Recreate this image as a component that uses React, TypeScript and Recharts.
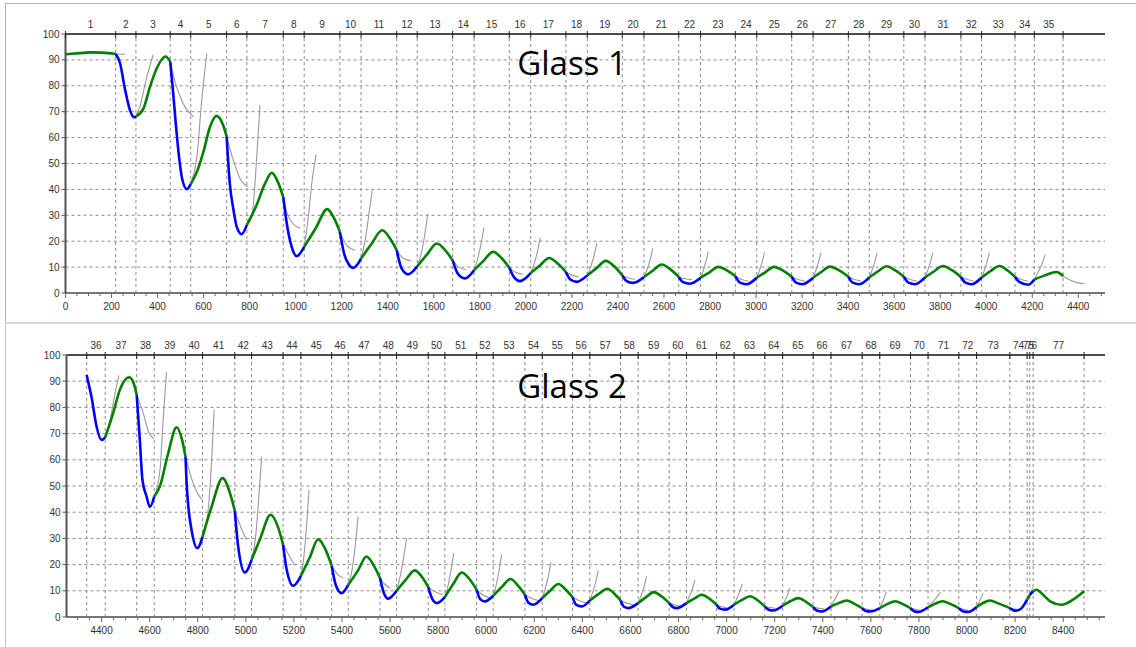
import { LineChart, Line, XAxis, YAxis, ReferenceLine } from 'recharts';

type Pt = [number, number];

// ---------- Glass 1 ----------
const glass1Steps = [
  1, 2, 3, 4, 5, 6, 7, 8, 9, 10, 11, 12, 13, 14, 15, 16, 17, 18, 19, 20,
  21, 22, 23, 24, 25, 26, 27, 28, 29, 30, 31, 32, 33, 34, 35,
];
// step start/end times (one more entry than steps)
const glass1Edges = [
  0, 218, 306, 455, 544, 700, 788, 946, 1037, 1192, 1284, 1439, 1528, 1682, 1775, 1928, 2021, 2174,
  2267, 2419, 2513, 2664, 2759, 2910, 3003, 3155, 3248, 3401, 3492, 3642, 3734, 3890, 3980, 4125,
  4209, 4334,
];
const glass1Trace: Pt[] = [
  [0, 92.2], [61, 92.6], [107, 92.9], [160, 92.8], [218, 92.3],
  [237, 88.7], [259, 78.4], [280, 70.6], [298, 67.8], [306, 68.2],
  [339, 71.3], [367, 79.6], [396, 86.7], [435, 91.3], [455, 89.3],
  [468, 77], [479, 65.5], [494, 52], [507, 44], [527, 40.1], [544, 42],
  [574, 47.5], [599, 54.5], [628, 64.2], [656, 68.4], [685, 64.8], [700, 60.5],
  [714, 42], [729, 32.5], [744, 25.5], [765, 22.7], [788, 26.3],
  [828, 33.5], [868, 42.5], [896, 46.4], [922, 43], [946, 37],
  [961, 27], [982, 18], [1004, 14.2], [1037, 17.8],
  [1087, 25], [1137, 32.4], [1166, 29], [1192, 23.6],
  [1211, 15], [1231, 11], [1250, 9.7], [1284, 13.3],
  [1326, 18.5], [1376, 24.2], [1410, 21], [1439, 16.5],
  [1460, 9.5], [1489, 7.2], [1528, 10.3],
  [1570, 14.8], [1613, 19.1], [1650, 16.5], [1682, 12.6],
  [1704, 7.5], [1735, 5.6], [1775, 8.8],
  [1814, 12.2], [1858, 15.9], [1894, 13.5], [1928, 9.8],
  [1948, 6.2], [1974, 4.6], [2021, 7.7],
  [2061, 10.6], [2101, 13.5], [2137, 11.5], [2174, 8.1],
  [2192, 5.3], [2220, 4.3], [2267, 6.8],
  [2307, 9.6], [2347, 12.4], [2384, 10.3], [2419, 6.8],
  [2438, 4.6], [2466, 3.9], [2513, 6.2],
  [2551, 8.6], [2590, 11], [2627, 9.2], [2664, 6.2],
  [2683, 4.2], [2713, 3.6], [2759, 5.9],
  [2798, 8], [2836, 10.1], [2873, 8.7], [2910, 6.5],
  [2930, 4], [2959, 3.4], [3003, 5.9],
  [3040, 8], [3078, 10.1], [3117, 8.6], [3155, 6.3],
  [3174, 4], [3201, 3.4], [3248, 5.9],
  [3285, 8.2], [3321, 10.2], [3361, 8.7], [3401, 6.3],
  [3420, 4], [3449, 3.4], [3492, 6],
  [3529, 8.3], [3567, 10.3], [3605, 8.7], [3642, 6.3],
  [3662, 4], [3691, 3.4], [3734, 6],
  [3773, 8.3], [3811, 10.4], [3851, 8.8], [3890, 6.2],
  [3910, 4], [3936, 3.4], [3980, 6],
  [4018, 8.4], [4057, 10.4], [4091, 8.8], [4125, 6.3],
  [4145, 4.2], [4183, 3.2], [4209, 5.2],
  [4255, 6.8], [4306, 8.1], [4324, 7.3], [4334, 6.5],
];
// fitted curves, one per step, running past the step end
const glass1Fits: Pt[][] = [
  [[218, 92.3], [259, 92.2]],
  [[306, 68.2], [323, 72], [352, 83], [381, 92]],
  [[455, 89.3], [476, 81.5], [512, 73], [556, 68]],
  [[544, 42], [557, 46], [570, 52], [592, 74.5], [614, 92.5]],
  [[700, 60.5], [729, 51.3], [758, 44.2], [794, 41]],
  [[788, 26.3], [803, 28], [816, 34], [831, 53], [845, 72.5]],
  [[946, 37], [962, 31], [982, 27.5], [1019, 25]],
  [[1037, 17.8], [1055, 29.4], [1070, 42.3], [1089, 53.5]],
  [[1192, 23.6], [1221, 18.5], [1258, 16.5]],
  [[1284, 13.3], [1301, 20], [1316, 29], [1333, 40]],
  [[1439, 16.5], [1465, 13.5], [1500, 12.4]],
  [[1528, 10.3], [1545, 15], [1560, 22], [1574, 30.7]],
  [[1682, 12.6], [1709, 10], [1740, 9]],
  [[1775, 8.8], [1790, 13], [1804, 18.5], [1818, 25.3]],
  [[1928, 9.8], [1955, 8], [1986, 7.2]],
  [[2021, 7.7], [2035, 11], [2049, 15.5], [2062, 21.3]],
  [[2174, 8.1], [2202, 6.8], [2231, 6.2]],
  [[2267, 6.8], [2281, 10], [2295, 14], [2308, 19.1]],
  [[2419, 6.8], [2446, 5.8], [2474, 5.3]],
  [[2513, 6.2], [2526, 9], [2539, 12.5], [2551, 17.2]],
  [[2664, 6.2], [2691, 5.5], [2721, 5.2]],
  [[2759, 5.9], [2770, 8.5], [2781, 11.8], [2792, 15.9]],
  [[2910, 6.5], [2938, 5.2], [2965, 4.6]],
  [[3003, 5.9], [3014, 8.5], [3026, 11.8], [3037, 15.7]],
  [[3155, 6.3], [3183, 5.2], [3210, 4.6]],
  [[3248, 5.9], [3259, 8.5], [3271, 11.8], [3282, 15.6]],
  [[3401, 6.3], [3429, 5.2], [3456, 4.6]],
  [[3492, 6], [3503, 8.5], [3515, 11.8], [3526, 15.6]],
  [[3642, 6.3], [3670, 5.2], [3697, 4.6]],
  [[3734, 6], [3745, 8.5], [3757, 11.8], [3768, 15.6]],
  [[3890, 6.2], [3918, 5.2], [3945, 4.6]],
  [[3980, 6], [3991, 8.5], [4003, 11.8], [4014, 15.6]],
  [[4125, 6.3], [4153, 5.2], [4180, 4.6]],
  [[4209, 5.2], [4225, 8], [4241, 11], [4256, 14.8]],
  [[4334, 6.5], [4364, 5], [4394, 4], [4428, 3.6]],
];
const glass1TimeLabels = [
  0, 200, 400, 600, 800, 1000, 1200, 1400, 1600, 1800, 2000, 2200, 2400, 2600, 2800, 3000, 3200,
  3400, 3600, 3800, 4000, 4200, 4400,
];

// ---------- Glass 2 ----------
const glass2Steps = [
  36, 37, 38, 39, 40, 41, 42, 43, 44, 45, 46, 47, 48, 49, 50, 51, 52, 53, 54, 55, 56,
  57, 58, 59, 60, 61, 62, 63, 64, 65, 66, 67, 68, 69, 70, 71, 72, 73, 74, 75, 76, 77,
];
const glass2Edges = [
  4338, 4415, 4546, 4619, 4749, 4820, 4954, 5024, 5155, 5229, 5357, 5426, 5558, 5627, 5759, 5828,
  5960, 6029, 6161, 6233, 6359, 6431, 6559, 6632, 6761, 6833, 6958, 7031, 7159, 7233, 7360, 7434,
  7564, 7637, 7765, 7838, 7966, 8040, 8178, 8250, 8261, 8275, 8487,
];
const glass2Trace: Pt[] = [
  [4338, 92.4], [4346, 89], [4358, 84], [4379, 72.7], [4400, 67.6], [4415, 68.5],
  [4448, 77.8], [4476, 86.7], [4515, 91.5], [4536, 88.5], [4546, 84.7],
  [4559, 67.6], [4570, 52.3], [4587, 46], [4601, 42], [4619, 46],
  [4643, 50], [4677, 62.5], [4712, 72.4], [4735, 67.5], [4749, 61.2],
  [4753, 52.3], [4760, 43], [4774, 33.3], [4798, 26.3], [4820, 30.7],
  [4858, 42.2], [4903, 53], [4935, 47], [4954, 40.6],
  [4968, 27], [4996, 17], [5024, 21.8],
  [5060, 30], [5103, 39], [5135, 34], [5155, 27.6],
  [5170, 18], [5197, 11.9], [5229, 15.7],
  [5265, 22.5], [5301, 29.7], [5330, 26], [5357, 19.6],
  [5375, 12], [5398, 9.1], [5426, 12.3],
  [5465, 17.5], [5502, 23.1], [5530, 20], [5558, 14.9],
  [5575, 9], [5592, 7], [5627, 10],
  [5665, 14.2], [5703, 17.8], [5735, 15], [5759, 11.4],
  [5775, 7], [5794, 5.3], [5828, 7.6],
  [5862, 12.5], [5898, 17], [5930, 14.5], [5960, 10.4],
  [5975, 6.8], [5994, 5.9], [6029, 8.1],
  [6065, 11.5], [6101, 14.5], [6132, 12], [6161, 8.5],
  [6176, 5.4], [6196, 4.7], [6233, 7.2],
  [6266, 10], [6300, 12.6], [6330, 10.5], [6359, 7.6],
  [6375, 4.6], [6397, 4], [6431, 6.3],
  [6468, 8.8], [6504, 10.8], [6532, 9], [6559, 6.3],
  [6572, 4], [6590, 3.4], [6632, 5.3],
  [6665, 7.6], [6697, 9.5], [6730, 7.8], [6761, 5.3],
  [6775, 3.9], [6792, 3.4], [6833, 5.3],
  [6865, 7], [6896, 8.5], [6928, 7], [6958, 4.7],
  [6972, 3.2], [6993, 2.8], [7031, 4.7],
  [7064, 6.5], [7097, 7.9], [7130, 6.3], [7159, 4],
  [7175, 2.8], [7194, 2.5], [7233, 4.3],
  [7265, 6], [7298, 7.2], [7330, 5.8], [7360, 3.8],
  [7375, 2.5], [7395, 2.1], [7434, 4],
  [7466, 5.3], [7499, 6.3], [7532, 5], [7564, 3.4],
  [7578, 2.3], [7597, 2.1], [7637, 3.4],
  [7670, 5], [7701, 6], [7733, 4.9], [7765, 3.4],
  [7780, 2.2], [7796, 1.9], [7838, 3.7],
  [7868, 5.1], [7898, 6], [7932, 4.9], [7966, 3.4],
  [7985, 2.1], [8005, 1.9], [8040, 3.8],
  [8066, 5.3], [8094, 6.3], [8135, 5], [8178, 3.4],
  [8192, 2.6], [8205, 2.4], [8225, 3.2], [8240, 5], [8250, 6.6],
  [8261, 8.4], [8275, 9.8],
  [8289, 10.4], [8315, 8.6], [8346, 6], [8393, 4.7], [8441, 6.6], [8487, 9.8],
];
const glass2Fits: Pt[][] = [
  [[4415, 68.5], [4435, 75], [4455, 85], [4472, 92.2]],
  [[4546, 84.7], [4573, 78], [4594, 71], [4618, 68]],
  [[4619, 46], [4643, 56.2], [4656, 75.2], [4670, 93.6]],
  [[4749, 61.2], [4781, 51], [4800, 47], [4820, 44.7]],
  [[4820, 30.7], [4837, 36], [4853, 52.3], [4868, 79]],
  [[4954, 40.6], [4968, 37], [4985, 33], [5003, 29.5]],
  [[5024, 21.8], [5040, 30], [5055, 47], [5066, 61.2]],
  [[5155, 27.6], [5183, 23], [5204, 19.6]],
  [[5229, 15.7], [5240, 22], [5252, 34], [5263, 48.5]],
  [[5357, 19.6], [5380, 16.5], [5405, 14.9]],
  [[5426, 12.3], [5440, 17], [5455, 27], [5467, 38.4]],
  [[5558, 14.9], [5578, 12.5], [5600, 11]],
  [[5627, 10], [5641, 15], [5655, 22], [5669, 30.1]],
  [[5759, 11.4], [5790, 9.5], [5819, 8.5]],
  [[5828, 7.6], [5840, 11.5], [5852, 17], [5865, 24.4]],
  [[5960, 10.4], [5988, 8.3], [6015, 7.2]],
  [[6029, 8.1], [6041, 12], [6053, 17.5], [6064, 23.8]],
  [[6161, 8.5], [6190, 7.1], [6218, 6.3]],
  [[6233, 7.2], [6245, 10.5], [6257, 15], [6269, 20.8]],
  [[6359, 7.6], [6388, 6.2], [6418, 5.3]],
  [[6431, 6.3], [6443, 9.5], [6455, 13.2], [6466, 17.8]],
  [[6559, 6.3], [6585, 5.3], [6611, 4.7]],
  [[6632, 5.3], [6644, 8], [6656, 11.3], [6667, 15.5]],
  [[6761, 5.3], [6787, 4.5], [6813, 4]],
  [[6833, 5.3], [6845, 7.8], [6857, 10.6], [6868, 14.2]],
  [[6958, 4.7], [6980, 3.9], [7001, 3.4]],
  [[7031, 4.7], [7042, 7], [7054, 9.6], [7065, 12.7]],
  [[7159, 4], [7180, 3.6], [7201, 3.3]],
  [[7233, 4.3], [7243, 6.2], [7253, 8.4], [7263, 11]],
  [[7360, 3.8], [7383, 3.3], [7405, 3]],
  [[7434, 4], [7446, 6], [7458, 8], [7469, 10.4]],
  [[7564, 3.4], [7585, 2.9], [7605, 2.6]],
  [[7637, 3.4], [7647, 5.3], [7656, 7.4], [7665, 9.8]],
  [[7765, 3.4], [7785, 2.9], [7805, 2.5]],
  [[7838, 3.7], [7855, 5.5], [7872, 7.3], [7889, 9.4]],
  [[7966, 3.4], [7985, 2.9], [8005, 2.5]],
  [[8040, 3.8], [8049, 5.4], [8058, 7.2], [8067, 9.1]],
  [[8178, 3.4], [8197, 3], [8215, 2.8]],
  [[8250, 6.6], [8262, 8.8], [8274, 11.3]],
];
const glass2TimeLabels = [
  4400, 4600, 4800, 5000, 5200, 5400, 5600, 5800, 6000, 6200, 6400, 6600, 6800, 7000, 7200, 7400,
  7600, 7800, 8000, 8200, 8400,
];

const percentLabels = [0, 10, 20, 30, 40, 50, 60, 70, 80, 90, 100];

const FONT = '"Liberation Sans", Arial, sans-serif';
const GRID = '#8c8c8c';

type Row = { x: number; y: number | null };

// join pieces into one series, broken by null gaps
function joinPieces(pieces: Pt[][]): Row[] {
  const rows: Row[] = [];
  pieces.forEach((p) => {
    p.forEach(([x, y]) => rows.push({ x, y }));
    rows.push({ x: p[p.length - 1][0], y: null });
  });
  return rows;
}

// cut the trace at the step edges: even steps draw blue, odd steps green
function splitSteps(trace: Pt[], edges: number[], steps: number[]) {
  const even: Pt[][] = [];
  const odd: Pt[][] = [];
  steps.forEach((s, i) => {
    const seg = trace.filter(([x]) => x >= edges[i] && x <= edges[i + 1]);
    if (seg.length > 1) (s % 2 === 0 ? even : odd).push(seg);
  });
  return { blue: joinPieces(even), green: joinPieces(odd) };
}

type PanelProps = {
  top: number;
  height: number;
  margin: { top: number; right: number; bottom: number; left: number };
  yWidth: number;
  domain: [number, number];
  steps: number[];
  edges: number[];
  trace: Pt[];
  fits: Pt[][];
  timeLabels: number[];
  title: string;
  titleY: number;
};

function Panel(p: PanelProps) {
  const { blue, green } = splitSteps(p.trace, p.edges, p.steps);
  const fits = joinPieces(p.fits);
  const mids = p.steps.map((_, i) => (p.edges[i] + p.edges[i + 1]) / 2);
  const topTicks = [...p.edges, ...mids].sort((a, b) => a - b);
  const minorTicks: number[] = [];
  for (let t = Math.ceil(p.domain[0] / 50) * 50; t <= p.domain[1]; t += 50) minorTicks.push(t);

  const bottomTick = (props: any) => {
    const { x, y, payload } = props;
    const major = p.timeLabels.includes(payload.value);
    return (
      <g>
        <line x1={x} y1={y} x2={x} y2={y + (major ? 5 : 3)} stroke="#666" />
        {major && (
          <text x={x} y={y + 17} textAnchor="middle" fontSize={10} fontFamily={FONT} fill="#333">
            {payload.value}
          </text>
        )}
      </g>
    );
  };

  const topTick = (props: any) => {
    const { x, y, payload } = props;
    const i = mids.indexOf(payload.value);
    if (i >= 0) {
      return (
        <text x={x} y={y - 6} textAnchor="middle" fontSize={10} fontFamily={FONT} fill="#333">
          {p.steps[i]}
        </text>
      );
    }
    return <line x1={x} y1={y - 3} x2={x} y2={y + 4} stroke="#222" />;
  };

  const leftTick = (props: any) => {
    const { x, y, payload } = props;
    return (
      <g>
        <line x1={x - 4} y1={y} x2={x} y2={y} stroke="#555" />
        <text x={x - 6} y={y + 3.5} textAnchor="end" fontSize={10} fontFamily={FONT} fill="#333">
          {payload.value}
        </text>
      </g>
    );
  };

  return (
    <div style={{ position: 'absolute', left: 0, top: p.top, width: 1136, height: p.height }}>
      <LineChart width={1136} height={p.height} margin={p.margin}>
        <XAxis
          dataKey="x"
          type="number"
          domain={p.domain}
          allowDataOverflow
          ticks={minorTicks}
          interval={0}
          tick={bottomTick}
          tickLine={false}
          tickSize={0}
          tickMargin={0}
          height={22}
          axisLine={{ stroke: '#777', strokeWidth: 2 }}
        />
        <XAxis
          xAxisId="step"
          dataKey="x"
          orientation="top"
          type="number"
          domain={p.domain}
          allowDataOverflow
          ticks={topTicks}
          interval={0}
          tick={topTick}
          tickLine={false}
          tickSize={0}
          tickMargin={0}
          height={24}
          axisLine={{ stroke: '#111', strokeWidth: 1.6 }}
        />
        <YAxis
          type="number"
          domain={[0, 100]}
          ticks={percentLabels}
          interval={0}
          tick={leftTick}
          tickLine={false}
          tickSize={0}
          tickMargin={0}
          width={p.yWidth}
          axisLine={{ stroke: '#555', strokeWidth: 2 }}
        />
        {percentLabels
          .filter((v) => v > 0 && v < 100)
          .map((v) => (
            <ReferenceLine key={'h' + v} y={v} stroke={GRID} strokeDasharray="3 3" />
          ))}
        {p.edges
          .filter((e) => e > p.domain[0])
          .map((e) => (
            <ReferenceLine key={'v' + e} x={e} stroke={GRID} strokeDasharray="3 3" />
          ))}
        {/* fitted curves share the step axis, which has the same domain */}
        <Line
          xAxisId="step"
          data={fits}
          dataKey="y"
          type="monotone"
          stroke="#9a9a9a"
          strokeWidth={1.1}
          dot={false}
          activeDot={false}
          connectNulls={false}
          isAnimationActive={false}
        />
        <Line
          data={green}
          dataKey="y"
          type="monotone"
          stroke="#008000"
          strokeWidth={2.6}
          dot={false}
          activeDot={false}
          connectNulls={false}
          isAnimationActive={false}
        />
        <Line
          data={blue}
          dataKey="y"
          type="monotone"
          stroke="#0000ff"
          strokeWidth={2.6}
          dot={false}
          activeDot={false}
          connectNulls={false}
          isAnimationActive={false}
        />
      </LineChart>
      <svg
        width={1136}
        height={p.height}
        style={{ position: 'absolute', left: 0, top: 0, pointerEvents: 'none' }}
      >
        <text
          x={572}
          y={p.titleY}
          textAnchor="middle"
          fontSize={33}
          fontFamily='"Open Sans", "Noto Sans", sans-serif'
          fill="#000"
        >
          {p.title}
        </text>
      </svg>
    </div>
  );
}

export default function App() {
  return (
    <div
      style={{
        position: 'absolute',
        left: 0,
        top: 0,
        width: 1136,
        height: 647,
        background: '#fff',
        overflow: 'hidden',
      }}
    >
      <div
        style={{
          position: 'absolute',
          left: 5,
          top: 3,
          width: 1131,
          height: 318,
          borderLeft: '1px solid #b4b4b4',
          borderTop: '1px solid #b4b4b4',
        }}
      />
      <div
        style={{
          position: 'absolute',
          left: 5,
          top: 322,
          width: 1131,
          height: 325,
          borderLeft: '1px solid #c8c8c8',
          borderTop: '2px solid #d8d8d8',
        }}
      />
      <Panel
        top={0}
        height={320}
        margin={{ top: 10, right: 31, bottom: 5, left: 26 }}
        yWidth={39.5}
        domain={[0, 4516]}
        steps={glass1Steps}
        edges={glass1Edges}
        trace={glass1Trace}
        fits={glass1Fits}
        timeLabels={glass1TimeLabels}
        title="Glass 1"
        titleY={75}
      />
      <Panel
        top={320}
        height={327}
        margin={{ top: 11, right: 31, bottom: 8, left: 26 }}
        yWidth={40.5}
        domain={[4254, 8574]}
        steps={glass2Steps}
        edges={glass2Edges}
        trace={glass2Trace}
        fits={glass2Fits}
        timeLabels={glass2TimeLabels}
        title="Glass 2"
        titleY={78}
      />
    </div>
  );
}
